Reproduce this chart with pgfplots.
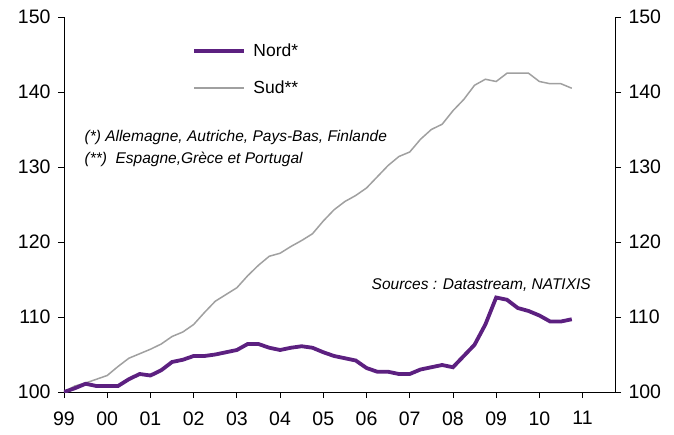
\documentclass[border=0pt]{standalone}
\usepackage{pgfplots}
\pgfplotsset{compat=1.18}
\usepackage{fontspec}
\setmainfont{Liberation Sans}
\definecolor{nord}{RGB}{92,32,128}
\definecolor{sud}{RGB}{160,160,160}
\pgfplotstableread{
x y
0 100
0.25 100.5
0.5 101.1
0.75 100.8
1 100.8
1.25 100.8
1.5 101.7
1.75 102.4
2 102.2
2.25 102.9
2.5 104.0
2.75 104.3
3 104.8
3.25 104.8
3.5 105.0
3.75 105.3
4 105.6
4.25 106.4
4.5 106.4
4.75 105.9
5 105.6
5.25 105.9
5.5 106.1
5.75 105.9
6 105.3
6.25 104.8
6.5 104.5
6.75 104.2
7 103.2
7.25 102.7
7.5 102.7
7.75 102.4
8 102.4
8.25 103.0
8.5 103.3
8.75 103.6
9 103.3
9.25 104.8
9.5 106.3
9.75 109.0
10 112.6
10.25 112.3
10.5 111.2
10.75 110.8
11 110.2
11.25 109.4
11.5 109.4
11.75 109.7
}\nord
\pgfplotstableread{
x y
0 100
0.25 100.8
0.5 101.2
0.75 101.7
1 102.2
1.25 103.4
1.5 104.5
1.75 105.1
2 105.7
2.25 106.4
2.5 107.4
2.75 108.0
3 109.0
3.25 110.6
3.5 112.1
3.75 113.0
4 113.9
4.25 115.5
4.5 116.9
4.75 118.1
5 118.5
5.25 119.4
5.5 120.2
5.75 121.1
6 122.8
6.25 124.3
6.5 125.4
6.75 126.2
7 127.2
7.25 128.7
7.5 130.2
7.75 131.4
8 132.0
8.25 133.7
8.5 135.0
8.75 135.7
9 137.5
9.25 139.0
9.5 140.9
9.75 141.7
10 141.4
10.25 142.5
10.5 142.5
10.75 142.5
11 141.4
11.25 141.1
11.5 141.1
11.75 140.5
}\sud
\begin{document}
\begin{tikzpicture}
\pgfplotsset{
  common/.style={
    scale only axis, width=551pt, height=375pt,
    at={(0,0)}, anchor=south west,
    xmin=0, xmax=12.75, ymin=100, ymax=150,
    ytick={100,110,...,150},
    tick align=outside, major tick length=6pt,
    tick style={black, line width=0.8pt},
    axis line style={black, line width=0.8pt},
    ticklabel style={font=\fontsize{19.5}{21}\selectfont},
    /pgf/number format/assume math mode=true,
  }
}
\begin{axis}[common,
  axis y line*=left, axis x line*=bottom,
  xtick={0,1,...,12},
  xticklabels={99,00,01,02,03,04,05,06,07,08,09,10,11},
  xticklabel style={yshift=-10pt},
  yticklabel style={xshift=-4pt},
  legend style={at={(0.233,0.935)}, anchor=north west, draw=none, fill=none,
    inner sep=0pt, row sep=19pt, font=\fontsize{17.5}{19}\selectfont,
    nodes={inner sep=2pt}},
  legend cell align=left,
  reverse legend,
  legend image code/.code={\draw[#1] (0pt,0pt) -- (50pt,0pt);},
  legend entries={\hspace{5pt}Sud**,\hspace{5pt}Nord*},
]
\addplot[sud, line width=1.5pt] table[x=x,y=y]{\sud};
\addplot[nord, line width=3.8pt] table[x=x,y=y]{\nord};
\node[anchor=west, font=\fontsize{15.5}{17}\itshape] at (rel axis cs:0.031,0.68) {(*) Allemagne, Autriche, Pays-Bas, Finlande};
\node[anchor=west, font=\fontsize{15.5}{17}\itshape] at (rel axis cs:0.031,0.62) {(**)\ \ Espagne,Grèce et Portugal};
\node[anchor=west, font=\fontsize{15.5}{17}\itshape] at (rel axis cs:0.552,0.285) {Sources : Datastream, NATIXIS};
\end{axis}
\begin{axis}[common,
  axis y line*=right, axis x line=none,
  yticklabel style={xshift=4pt},
]
\end{axis}
\pgfresetboundingbox
\path (-64pt,-42pt) rectangle (610pt,392pt);
\end{tikzpicture}
\end{document}
